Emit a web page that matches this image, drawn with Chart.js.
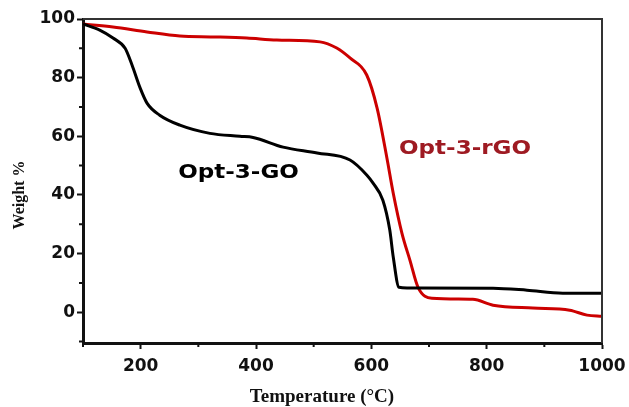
<!DOCTYPE html>
<html>
<head>
<meta charset="utf-8">
<script src="https://cdn.jsdelivr.net/npm/chart.js@4/dist/chart.umd.min.js"></script>
<style>
	body { margin: 0; background: #fff; }
	canvas { display: block; }
</style>
</head>
<body>
<canvas id="tga" width="629" height="407"></canvas>
<script>
var goTemp   = [100, 129, 152, 173, 185, 199, 211, 233, 268, 320, 372, 395, 447, 506, 563, 592, 603, 620, 632, 638, 648, 662, 811, 870, 932, 1000];
var goWeight = [98.3, 96.2, 93.5, 90, 84.3, 76.5, 71.3, 67.2, 63.8, 61, 60, 59.6, 56.3, 54.3, 51.9, 46.8, 44, 38.2, 28, 18.8, 8.5, 8.3, 8.2, 7.5, 6.5, 6.5];

var rgoTemp   = [100, 152, 211, 268, 325, 384, 436, 511, 540, 563, 592, 610, 627, 638, 653, 667, 681, 705, 776, 811, 880, 944, 974, 1000];
var rgoWeight = [98.3, 97.3, 95.6, 94.2, 93.9, 93.5, 92.8, 92.2, 90.1, 86.7, 80.9, 69.6, 52.6, 40.6, 27, 17.7, 8.5, 4.8, 4.4, 2.4, 1.4, 0.7, -1, -1.4];

var xTicks = [200, 400, 600, 800, 1000];
var xMinor = [100, 300, 500, 700, 900];
var yTicks = [0, 20, 40, 60, 80, 100];
var yMinor = [-10, 10, 30, 50, 70, 90];

var labels = [
	{ text: 'Opt-3-GO', x: 265, y: 45.7, color: '#000000' },
	{ text: 'Opt-3-rGO', x: 648, y: 53.9, color: '#9e1a22' }
];

function points(xs, ys) {
	return xs.map(function(x, i) { return { x: x, y: ys[i] }; });
}

var extras = {
	id: 'extras',
	beforeDraw: function(chart) {
		var ctx = chart.ctx;
		ctx.save();
		ctx.fillStyle = '#fff';
		ctx.fillRect(0, 0, chart.width, chart.height);
		ctx.restore();
	},
	afterDraw: function(chart) {
		var ctx = chart.ctx;
		var a = chart.chartArea;
		var sx = chart.scales.x, sy = chart.scales.y;
		ctx.save();
		// top and right frame
		ctx.strokeStyle = '#333';
		ctx.lineWidth = 2;
		ctx.beginPath();
		ctx.moveTo(a.left, a.top);
		ctx.lineTo(a.right, a.top);
		ctx.lineTo(a.right, a.bottom);
		ctx.stroke();
		// minor ticks
		ctx.strokeStyle = '#111';
		ctx.lineWidth = 2;
		ctx.beginPath();
		xMinor.forEach(function(v) {
			var px = sx.getPixelForValue(v);
			ctx.moveTo(px, a.bottom);
			ctx.lineTo(px, a.bottom + 4);
		});
		yMinor.forEach(function(v) {
			var py = sy.getPixelForValue(v);
			ctx.moveTo(a.left, py);
			ctx.lineTo(a.left - 4, py);
		});
		ctx.stroke();
		// axis titles
		ctx.fillStyle = '#111';
		ctx.textAlign = 'center';
		ctx.textBaseline = 'middle';
		ctx.font = 'bold 19px "Liberation Serif"';
		ctx.fillText('Temperature (°C)', 322, 397);
		ctx.translate(20, 195);
		ctx.rotate(-Math.PI / 2);
		ctx.font = 'bold 16px "Liberation Serif"';
		ctx.fillText('Weight %', 0, 0);
		ctx.restore();
		// curve labels
		labels.forEach(function(l) {
			ctx.save();
			ctx.translate(sx.getPixelForValue(l.x), sy.getPixelForValue(l.y));
			ctx.scale(1.28, 1.05);
			ctx.fillStyle = l.color;
			ctx.font = 'bold 18px "DejaVu Sans"';
			ctx.textAlign = 'left';
			ctx.textBaseline = 'alphabetic';
			ctx.fillText(l.text, 0, 0);
			ctx.restore();
		});
	}
};

var ctx = document.getElementById('tga');
var chart = new Chart(ctx, {
	type: 'line',
	data: {
		datasets: [
			{
				label: 'Opt-3-GO',
				data: points(goTemp, goWeight),
				borderColor: '#000',
				borderWidth: 3,
				pointRadius: 0,
				cubicInterpolationMode: 'monotone'
			},
			{
				label: 'Opt-3-rGO',
				data: points(rgoTemp, rgoWeight),
				borderColor: '#cc0000',
				borderWidth: 3,
				pointRadius: 0,
				cubicInterpolationMode: 'monotone'
			}
		]
	},
	options: {
		responsive: false,
		devicePixelRatio: 1,
		animation: false,
		layout: { padding: { top: 19, right: 27, left: 0, bottom: 0 } },
		plugins: { legend: { display: false }, tooltip: { enabled: false } },
		scales: {
			x: {
				type: 'linear',
				min: 100,
				max: 1000,
				afterBuildTicks: function(s) { s.ticks = xTicks.map(function(v) { return { value: v }; }); },
				afterFit: function(s) { s.height = 64; s.paddingLeft = 0; s.paddingRight = 0; },
				grid: { drawOnChartArea: false, drawTicks: true, tickLength: 6, tickWidth: 2, tickColor: '#111' },
				border: { display: true, width: 3, color: '#111' },
				ticks: {
					color: '#111', padding: 7, maxRotation: 0,
					font: { family: 'DejaVu Sans', weight: 'bold', size: 17 },
					callback: function(v) { return String(v); }
				}
			},
			y: {
				min: -10.5,
				max: 100,
				afterBuildTicks: function(s) { s.ticks = yTicks.map(function(v) { return { value: v }; }); },
				afterFit: function(s) { s.width = 83; s.paddingTop = 0; s.paddingBottom = 0; },
				grid: { drawOnChartArea: false, drawTicks: true, tickLength: 6, tickWidth: 2, tickColor: '#111' },
				border: { display: true, width: 3, color: '#111' },
				ticks: {
					color: '#111', padding: 2,
					font: { family: 'DejaVu Sans', weight: 'bold', size: 17 },
					callback: function(v) { return String(v); }
				}
			}
		}
	},
	plugins: [extras]
});
</script>
</body>
</html>
